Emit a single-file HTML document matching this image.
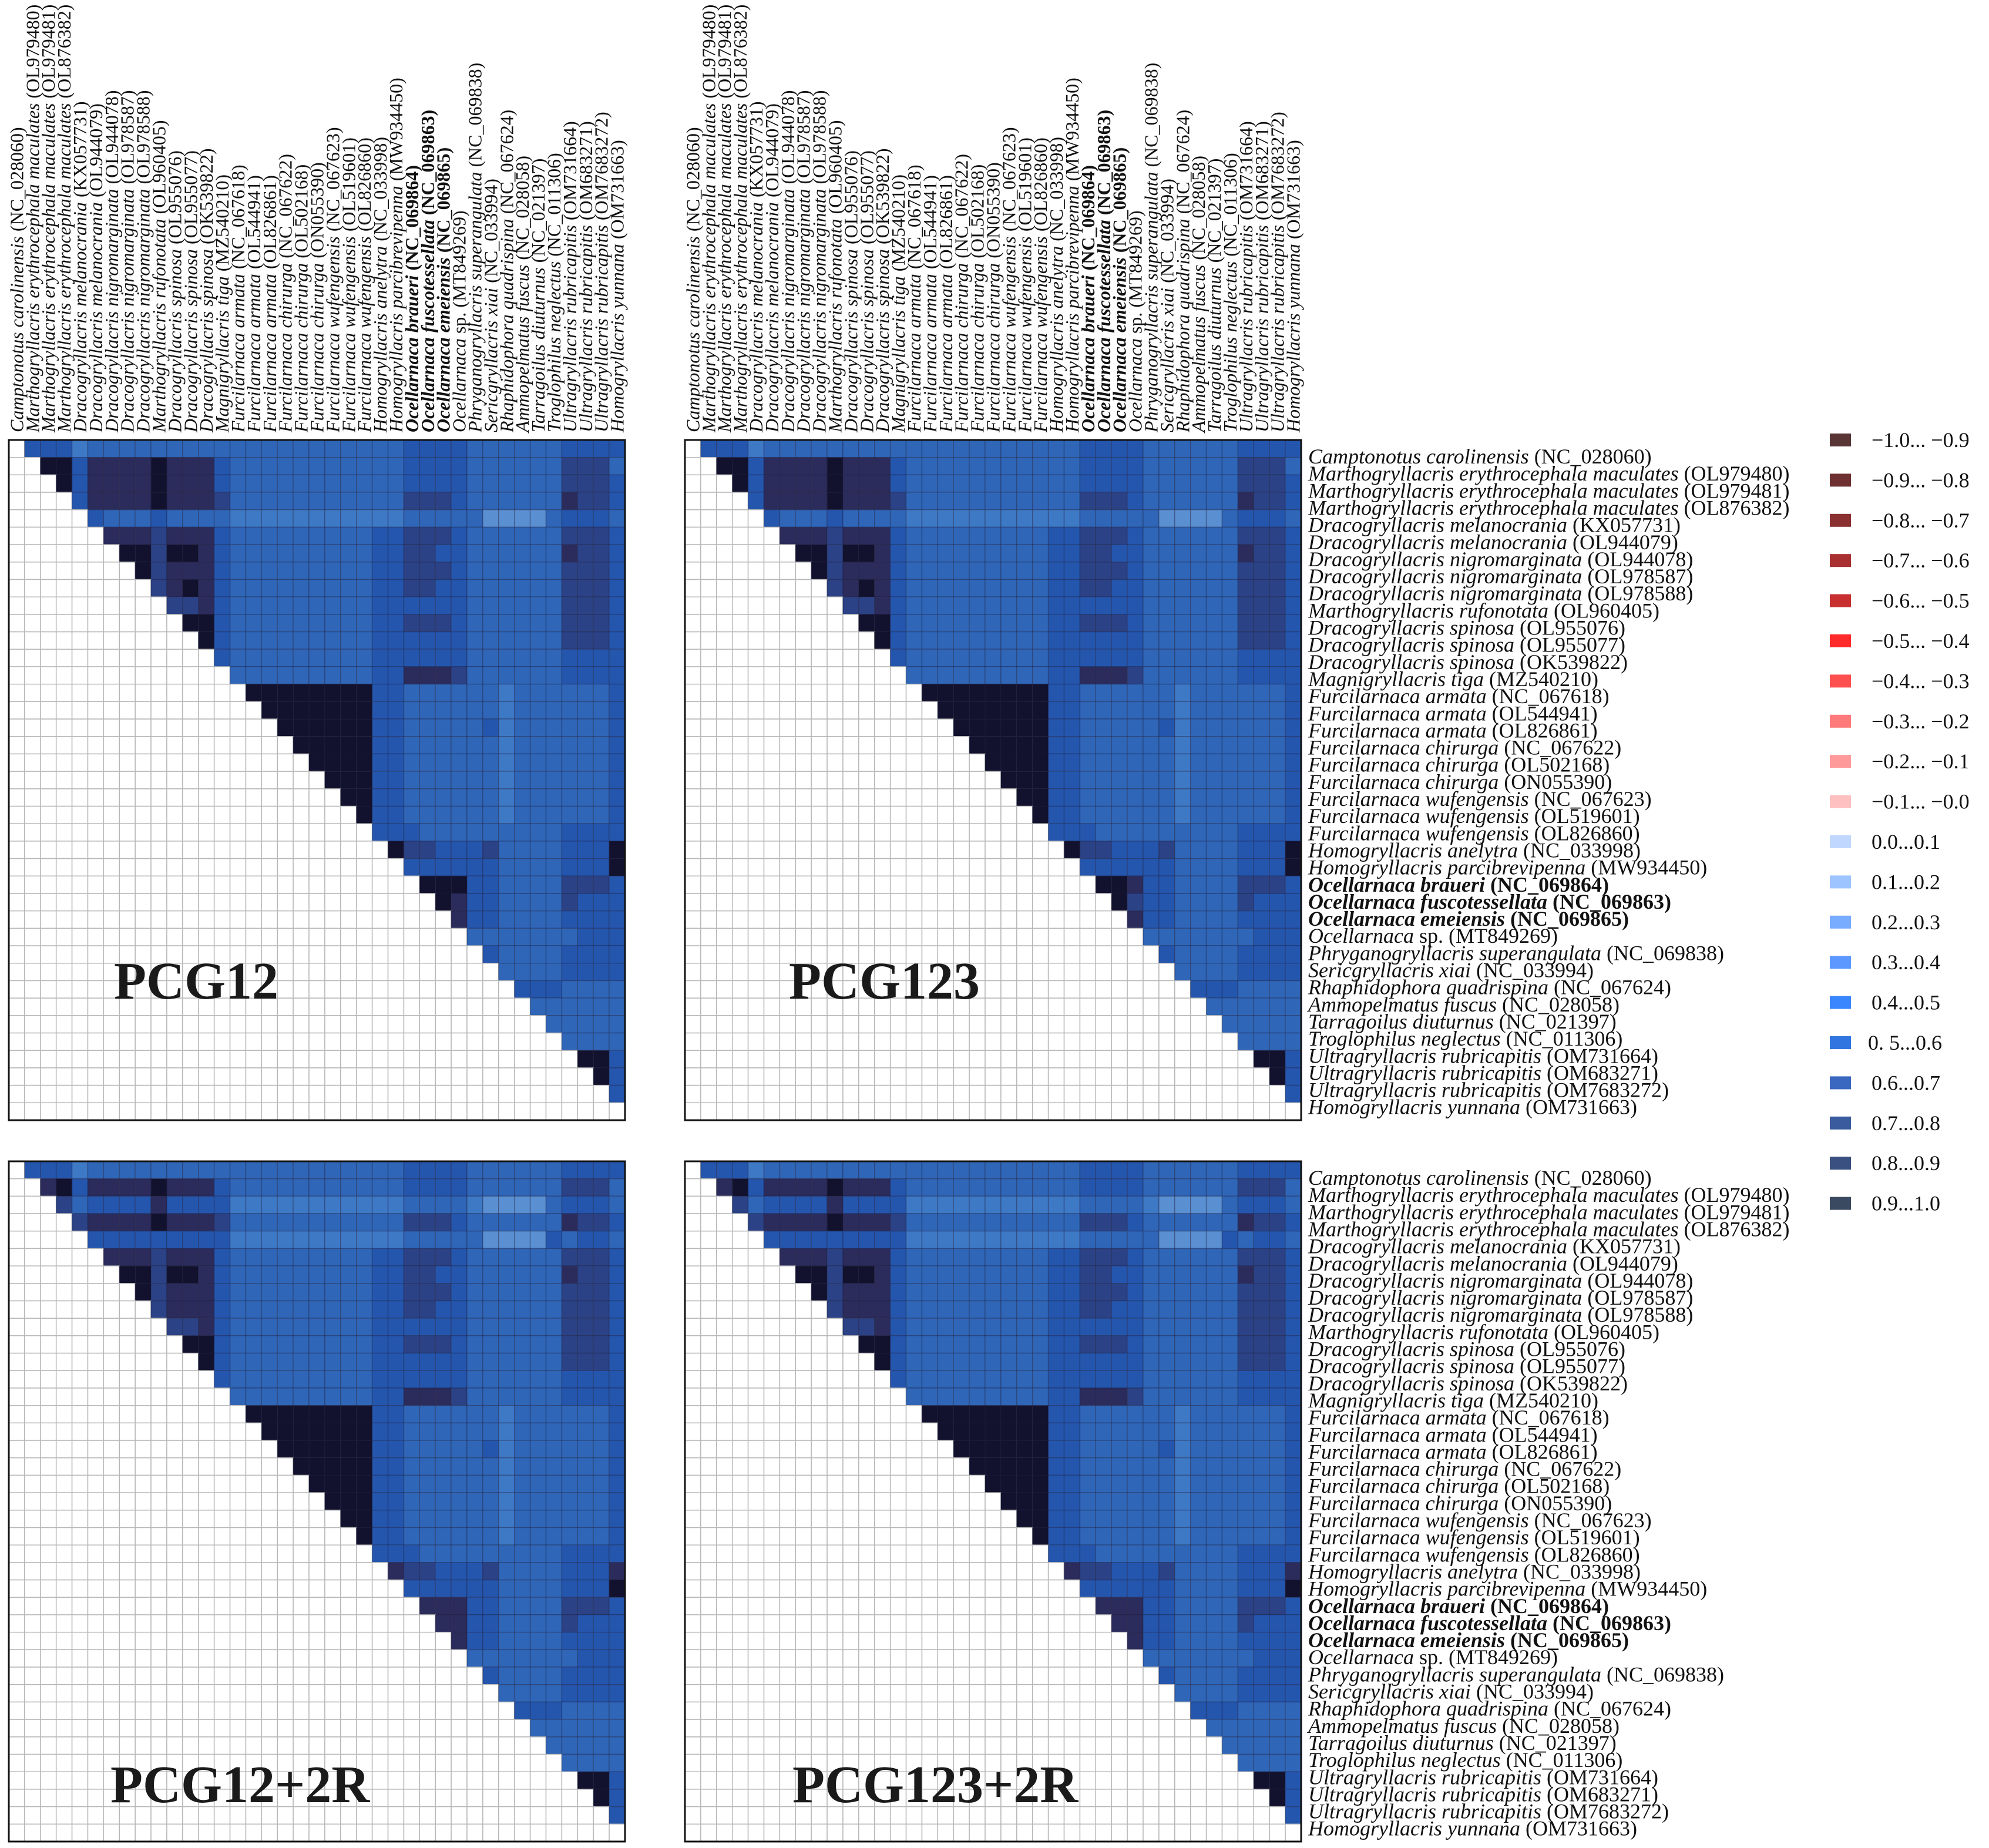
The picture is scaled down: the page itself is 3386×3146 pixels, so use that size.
<!DOCTYPE html>
<html><head><meta charset="utf-8"><style>
html,body{margin:0;padding:0;background:#fff;}
svg{display:block;}
text{font-family:"Liberation Serif",serif;}
</style></head><body>
<svg id="fig" xmlns="http://www.w3.org/2000/svg" width="3386" height="3146" viewBox="0 0 3386 3146"></svg>
<script>
const species = [
 ["Camptonotus carolinensis","(NC_028060)"],
 ["Marthogryllacris erythrocephala maculates","(OL979480)"],
 ["Marthogryllacris erythrocephala maculates","(OL979481)"],
 ["Marthogryllacris erythrocephala maculates","(OL876382)"],
 ["Dracogryllacris melanocrania","(KX057731)"],
 ["Dracogryllacris melanocrania","(OL944079)"],
 ["Dracogryllacris nigromarginata","(OL944078)"],
 ["Dracogryllacris nigromarginata","(OL978587)"],
 ["Dracogryllacris nigromarginata","(OL978588)"],
 ["Marthogryllacris rufonotata","(OL960405)"],
 ["Dracogryllacris spinosa","(OL955076)"],
 ["Dracogryllacris spinosa","(OL955077)"],
 ["Dracogryllacris spinosa","(OK539822)"],
 ["Magnigryllacris tiga","(MZ540210)"],
 ["Furcilarnaca armata","(NC_067618)"],
 ["Furcilarnaca armata","(OL544941)"],
 ["Furcilarnaca armata","(OL826861)"],
 ["Furcilarnaca chirurga","(NC_067622)"],
 ["Furcilarnaca chirurga","(OL502168)"],
 ["Furcilarnaca chirurga","(ON055390)"],
 ["Furcilarnaca wufengensis","(NC_067623)"],
 ["Furcilarnaca wufengensis","(OL519601)"],
 ["Furcilarnaca wufengensis","(OL826860)"],
 ["Homogryllacris anelytra","(NC_033998)"],
 ["Homogryllacris parcibrevipenna","(MW934450)"],
 ["Ocellarnaca braueri","(NC_069864)"],
 ["Ocellarnaca fuscotessellata","(NC_069863)"],
 ["Ocellarnaca emeiensis","(NC_069865)"],
 ["Ocellarnaca","sp. (MT849269)"],
 ["Phryganogryllacris superangulata","(NC_069838)"],
 ["Sericgryllacris xiai","(NC_033994)"],
 ["Rhaphidophora quadrispina","(NC_067624)"],
 ["Ammopelmatus fuscus","(NC_028058)"],
 ["Tarragoilus diuturnus","(NC_021397)"],
 ["Troglophilus neglectus","(NC_011306)"],
 ["Ultragryllacris rubricapitis","(OM731664)"],
 ["Ultragryllacris rubricapitis","(OM683271)"],
 ["Ultragryllacris rubricapitis","(OM7683272)"],
 ["Homogryllacris yunnana","(OM731663)"]
];
const boldIdx = [25,26,27];
// correlation values in tenths-class digits (value = digit/10 + 0.05); row i holds columns i+1..38
const pcg12Rows = [
 "6664"+"55555555555555555555"+"6666"+"555555"+"6666",
 "99"+"6"+"8888"+"9"+"888"+"6"+"55555555555"+"6666"+"555555"+"777"+"5",
 "9"+"6"+"8888"+"9"+"888"+"6"+"55555555555"+"6666"+"555555"+"777"+"6",
 "6"+"8888"+"9"+"888"+"7"+"55555555555"+"777"+"6"+"555555"+"8"+"77"+"6",
 "6"+"555"+"6"+"5555"+"44444444444"+"55555"+"3333"+"5"+"666"+"5",
 "888"+"7"+"888"+"6"+"555555555"+"66"+"777"+"6"+"555555"+"777"+"6",
 "99"+"7"+"99"+"8"+"6"+"555555555"+"66"+"77"+"66"+"555555"+"8"+"77"+"6",
 "9"+"7"+"888"+"6"+"555555555"+"66"+"777"+"6"+"555555"+"777"+"6",
 "7"+"8"+"9"+"8"+"6"+"555555555"+"66"+"77"+"66"+"555555"+"777"+"6",
 "77"+"8"+"6"+"555555555"+"66"+"6666"+"555555"+"777"+"6",
 "99"+"6"+"555555555"+"66"+"777"+"6"+"555555"+"777"+"6",
 "9"+"6"+"555555555"+"66"+"6666"+"555555"+"777"+"6",
 "6"+"555555555"+"66"+"6666"+"555555"+"666"+"6",
 "555555555"+"66"+"888"+"7"+"555555"+"6666",
 "99999999"+"66"+"555555"+"4"+"555"+"555"+"6",
 "9999999"+"66"+"555555"+"4"+"555"+"555"+"6",
 "999999"+"66"+"55555"+"6"+"4"+"555"+"555"+"6",
 "99999"+"66"+"555555"+"4"+"555"+"555"+"6",
 "9999"+"66"+"55555"+"5"+"4"+"555"+"555"+"6",
 "999"+"66"+"555555"+"4"+"555"+"555"+"6",
 "99"+"66"+"555555"+"4"+"555"+"555"+"6",
 "9"+"66"+"555555"+"4"+"555"+"555"+"6",
 "6"+"66"+"5555555"+"55"+"666"+"6",
 "9"+"77"+"666"+"7"+"5555"+"666"+"9",
 "66"+"666"+"6"+"5555"+"666"+"9",
 "999"+"66"+"5555"+"777"+"6",
 "9"+"8"+"66"+"5555"+"7"+"66"+"6",
 "8"+"66"+"5555"+"666"+"6",
 "5555555666"+"6",
 "6"+"555"+"5"+"666"+"6",
 "5"+"555"+"666"+"6",
 "6665555",
 "555555",
 "55555",
 "5555",
 "996",
 "96",
 "6",
 ""
];
// per-panel overrides: [row, col, digit]
const pcg123Changes = [[13,25,8],[13,26,8],[13,27,8],[25,28,8],[26,28,7],[23,38,9],[24,38,9]];
const pcg12RChanges = [[1,2,8],[3,4,7],[2,3,7],[23,24,8],[23,38,8],[25,26,8],[25,27,8],[25,28,8],[26,27,8],[26,28,8],[27,28,8],[6,12,8],[8,11,8],[8,10,8],[6,9,7],[7,9,7]];
const pcg12RRow2 = "7"+"5"+"6666"+"8"+"666"+"6"+"44444444444"+"5555"+"4"+"3333"+"5"+"666"+"5";
const pcg12RRow4 = "6"+"666"+"6"+"6666"+"44444444444"+"55555"+"3333"+"6"+"566"+"5";
const panelNames = ["PCG12","PCG123","PCG12+2R","PCG123+2R"];

function buildMatrix(rows){
  const n = species.length; const M=[];
  for(let i=0;i<n;i++){M.push(new Array(n).fill(null));
    const s=rows[i]||"";
    for(let k=0;k<s.length && i+1+k<n;k++){M[i][i+1+k]=parseInt(s[k])/10+0.05;}
  }
  return M;
}
function applyChanges(M,ch){const C=M.map(r=>r.slice());ch.forEach(c=>{C[c[0]][c[1]]=c[2]/10+0.05;});return C;}
const m12 = buildMatrix(pcg12Rows);
const m123 = applyChanges(m12,pcg123Changes);
const r2rows = pcg12Rows.slice(); r2rows[2]=pcg12RRow2; r2rows[4]=pcg12RRow4;
const m12R = applyChanges(buildMatrix(r2rows),pcg12RChanges);
const m123R = applyChanges(m12R,[[24,38,9],[23,38,8]]);
const mats=[m12,m123,m12R,m123R];

function colorFor(v){
  if(v>=0.9) return "#12122e";
  if(v>=0.8) return "#2b2c5c";
  if(v>=0.7) return "#2b4286";
  if(v>=0.6) return "#2456ae";
  if(v>=0.5) return "#2f66b8";
  if(v>=0.4) return "#3e79c6";
  return "#5a8fd2";
}
const NS="http://www.w3.org/2000/svg";
const svg=document.getElementById("fig");
function mk(tag,attrs,parent){const e=document.createElementNS(NS,tag);for(const k in attrs)e.setAttribute(k,attrs[k]);(parent||svg).appendChild(e);return e;}
const N=species.length;
const panelX=[15,1166,15,1166], panelY=[749,749,1977,1977];
const PW=1049, PH=1158;
const cw=PW/N, ch=PH/N;
const xScale=(p,j)=>panelX[p]+j*cw;
const yScale=(p,i)=>panelY[p]+i*ch;
const labelPos=[[194,1700],[1343,1700],[188,3068],[1349,3068]];

for(let p=0;p<4;p++){
  const g=mk("g",{});
  
  
  const M=mats[p];
  for(let i=0;i<N;i++)for(let j=0;j<N;j++){
    const v=M[i][j];
    const r=mk("rect",{x:xScale(p,j).toFixed(2),y:yScale(p,i).toFixed(2),width:cw.toFixed(2),height:ch.toFixed(2),
      fill:v==null?"#ffffff":colorFor(v),stroke:v==null?"#b8b8b8":"rgba(30,30,60,0.35)","stroke-width":"1.5"},g);
    
    
  }
  const b=mk("rect",{x:panelX[p],y:panelY[p],width:PW,height:PH,fill:"none",stroke:"#111","stroke-width":"3"},g);
  
  
  const t=mk("text",{x:labelPos[p][0],y:labelPos[p][1],"font-size":"90","font-weight":"bold",fill:"#1a1a1a"},g);
  t.textContent=panelNames[p];
  
  
}

function fillLabel(t,i){
  const bold=boldIdx.includes(i);
  if(bold) t.setAttribute("font-weight","bold");
  const a=mk("tspan",{"font-style":"italic"},t); a.textContent=species[i][0];
  const b2=mk("tspan",{},t); b2.textContent=" "+species[i][1];
}
// row labels
[0,1228].forEach((off,k)=>{
  for(let i=0;i<N;i++){
    const t=mk("text",{x:2227,y:(789+off+i*29.15).toFixed(1),"font-size":"36",fill:"#111"});
    
    
    fillLabel(t,i);
  }
});
// column labels for top panels
[0,1].forEach(p=>{
  for(let j=0;j<N;j++){
    const x=xScale(p,j)+cw/2+11, y=736;
    const t=mk("text",{x:x.toFixed(1),y:y,transform:`rotate(-90 ${x.toFixed(1)} ${y})`,"font-size":"32",fill:"#111"});
    
    
    fillLabel(t,j);
  }
});
// legend
const legendLabels=["\u22121.0... \u22120.9","\u22120.9... \u22120.8","\u22120.8... \u22120.7","\u22120.7... \u22120.6","\u22120.6... \u22120.5","\u22120.5... \u22120.4","\u22120.4... \u22120.3","\u22120.3... \u22120.2","\u22120.2... \u22120.1","\u22120.1... \u22120.0","0.0...0.1","0.1...0.2","0.2...0.3","0.3...0.4","0.4...0.5","0. 5...0.6","0.6...0.7","0.7...0.8","0.8...0.9","0.9...1.0"];
const legendColors=["#5a3535","#6e3030","#8b3030","#a83030","#c83030","#ff2a2a","#ff5050","#ff7a7a","#ff9a9a","#ffc0c0","#c0d8ff","#9ec4ff","#78acff","#5c98ff","#3a86ff","#3075e0","#3a68c0","#3a5c9e","#3a5080","#3a4a60"];
const lg=mk("g",{});


legendLabels.forEach((lab,i)=>{
  const cy=749+i*68.4;
  const s=mk("rect",{x:3115,y:(cy-11).toFixed(1),width:36,height:22,fill:legendColors[i]},lg);
  
  
  const t=mk("text",{x:i==15?3180:3186,y:(cy+12).toFixed(1),"font-size":"36",fill:"#111"},lg);
  t.textContent=lab;
  
  
});
</script>
</body></html>
